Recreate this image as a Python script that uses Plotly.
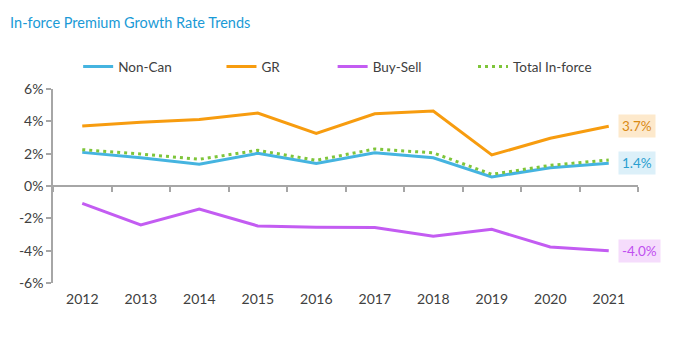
import plotly.graph_objects as go

years = ["2012", "2013", "2014", "2015", "2016", "2017", "2018", "2019", "2020", "2021"]
non_can = [2.08, 1.75, 1.34, 2.02, 1.40, 2.06, 1.75, 0.56, 1.13, 1.4]
gr = [3.71, 3.94, 4.12, 4.51, 3.26, 4.47, 4.64, 1.92, 2.95, 3.7]
buy_sell = [-1.07, -2.41, -1.42, -2.47, -2.55, -2.57, -3.11, -2.68, -3.77, -4.0]
total = [2.25, 1.98, 1.65, 2.21, 1.59, 2.29, 2.05, 0.72, 1.28, 1.61]
y_ticks = [-6, -4, -2, 0, 2, 4, 6]
y_tick_text = [f"{v}%" for v in y_ticks]

FONT = "Lato"
TXT = "#404040"
AXIS = "#a6a6a6"

series = [
    ("Non-Can", non_can, "#45b4e0", "solid", "legend"),
    ("GR", gr, "#f79c0f", "solid", "legend2"),
    ("Buy-Sell", buy_sell, "#c35cf2", "solid", "legend3"),
    ("Total In-force", total, "#7ec53a", "3px,4px", "legend4"),
]

fig = go.Figure()
for name, vals, color, dash, leg in series:
    fig.add_trace(go.Scatter(
        x=years, y=vals, name=name, mode="lines",
        line=dict(color=color, width=3, dash=dash),
        legend=leg, hoverinfo="skip",
    ))

# zero-line axis with tick marks between categories
fig.add_trace(go.Scatter(x=years, y=[0] * len(years), xaxis="x2", mode="lines",
                         line=dict(width=0), showlegend=False, hoverinfo="skip"))

# end-of-line value tags
tags = [
    (gr[-1], "#d98a14", "#fde9cc"),
    (non_can[-1], "#2a9fd0", "#dcf0f9"),
    (buy_sell[-1], "#c04ff0", "#f5dcfc"),
]
last = len(years) - 1
for v, fc, bg in tags:
    fig.add_annotation(
        xref="x", yref="y", x=last, y=v, text=f"{v:.1f}%", showarrow=False,
        xanchor="left", xshift=9,
        font=dict(family=FONT, size=13.5, color=fc),
        bgcolor=bg, borderpad=3,
    )

legend_x = {"legend": 0.043, "legend2": 0.288, "legend3": 0.478, "legend4": 0.718}
legend_cfg = {}
for key, xpos in legend_x.items():
    legend_cfg[key] = dict(
        x=xpos, y=1.115, xanchor="left", yanchor="middle",
        orientation="h", bgcolor="rgba(0,0,0,0)",
        font=dict(family=FONT, size=13.5, color=TXT),
        itemwidth=30,
    )

fig.update_layout(
    width=674, height=340,
    margin=dict(l=53, r=36, t=89, b=57),
    paper_bgcolor="white", plot_bgcolor="white",
    title=dict(text="In-force Premium Growth Rate Trends", x=0.015, xanchor="left",
               y=0.932, yanchor="middle",
               font=dict(family=FONT, size=14.5, color="#1a9ad6")),
    xaxis=dict(type="category", range=[-0.5, 9.5], showline=False, ticks="",
               showgrid=False, zeroline=False, ticklabelstandoff=6,
               tickfont=dict(family=FONT, size=14, color=TXT)),
    xaxis2=dict(type="category", overlaying="x", anchor="free", position=0.5,
                range=[-0.5, 9.5], showline=True, linecolor=AXIS, linewidth=1.5,
                ticks="outside", ticklen=5, tickcolor=AXIS, tickwidth=1.5,
                tickson="boundaries", showticklabels=False, showgrid=False,
                zeroline=False),
    yaxis=dict(range=[-6, 6], tickvals=y_ticks, ticktext=y_tick_text,
               showgrid=False, zeroline=False, showline=True, linecolor=AXIS,
               linewidth=1.5, ticks="outside", ticklen=5, tickcolor=AXIS,
               tickwidth=1.5, tickfont=dict(family=FONT, size=14, color=TXT)),
    **legend_cfg,
)

fig.write_html("out.html")
